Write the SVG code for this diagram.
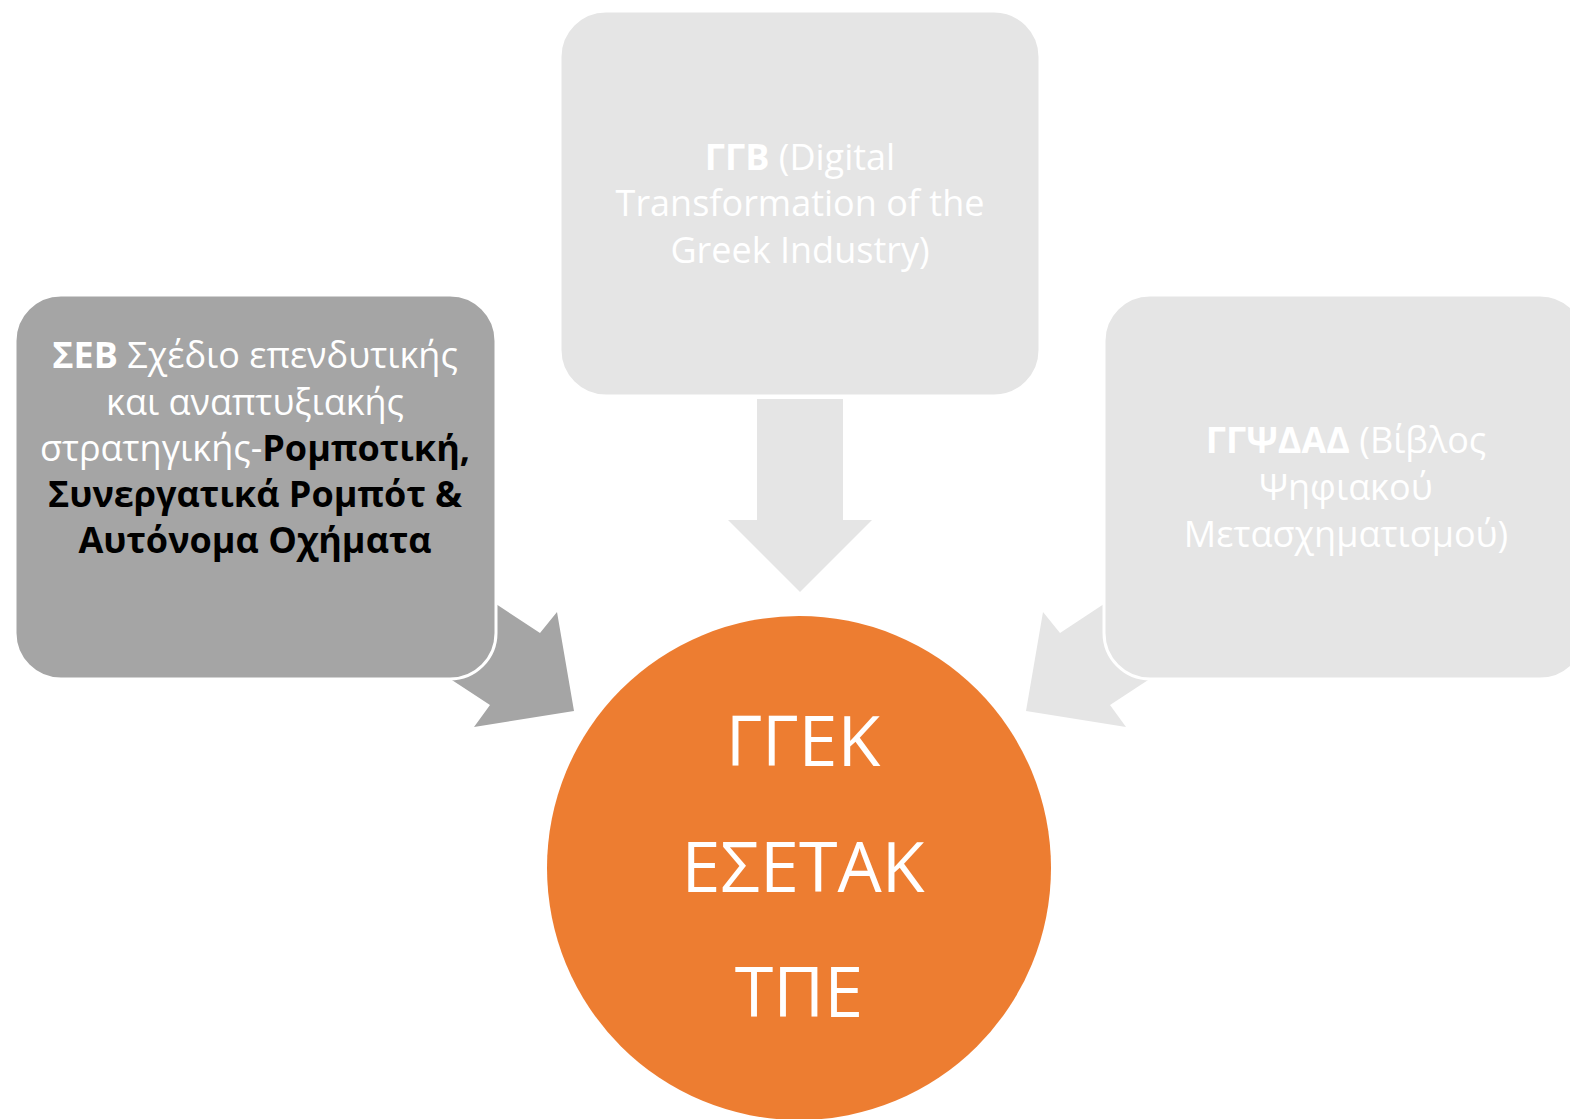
<svg xmlns="http://www.w3.org/2000/svg" width="1570" height="1119" viewBox="0 0 1570 1119">
<style>
.t{font-family:"Open Sans","Noto Sans","DejaVu Sans",sans-serif;text-anchor:middle}
.bt{font-size:36px}
.b{font-weight:bold}
.w{fill:#ffffff}
.k{fill:#000000}
.dark{fill:#a5a5a5}
.light{fill:#e5e5e5}
.box{stroke:#ffffff;stroke-width:3}
.big{font-size:70px;fill:#ffffff}
</style>
<rect width="1570" height="1119" fill="#ffffff"/>
<g id="connectors">
<polygon class="light" points="757,399 843,399 843,520 872,520 800,592 728,520 757,520"/>
<polygon class="dark" points="440,567 540,633 557,612 574,711 474,727 490,705 400,646"/>
<polygon class="light" points="1160,567 1060,633 1043,612 1026,711 1126,727 1110,705 1200,646"/>
</g>
<g id="node-ggb">
<rect class="light box" x="560" y="11" width="480" height="385" rx="46" ry="46"/>
<text class="t bt w" x="800" y="170"><tspan class="b">ΓΓΒ</tspan> (Digital</text>
<text class="t bt w" x="800" y="216">Transformation of the</text>
<text class="t bt w" x="800" y="263">Greek Industry)</text>
</g>
<g id="node-seb">
<rect class="dark box" x="15" y="295" width="481" height="384" rx="46" ry="46"/>
<text class="t bt w" x="255" y="368"><tspan class="b">ΣΕΒ</tspan> Σχέδιο επενδυτικής</text>
<text class="t bt w" x="255" y="415">και αναπτυξιακής</text>
<text class="t bt w" x="255" y="461">στρατηγικής-<tspan class="b k">Ρομποτική,</tspan></text>
<text class="t bt b k" x="255" y="507">Συνεργατικά Ρομπότ &amp;</text>
<text class="t bt b k" x="255" y="553">Αυτόνομα Οχήματα</text>
</g>
<g id="node-ggpsdad">
<rect class="light box" x="1104" y="295" width="482" height="384" rx="46" ry="46"/>
<text class="t bt w" x="1346" y="453"><tspan class="b">ΓΓΨΔΑΔ</tspan> (Βίβλος</text>
<text class="t bt w" x="1346" y="500">Ψηφιακού</text>
<text class="t bt w" x="1346" y="547">Μετασχηματισμού)</text>
</g>
<g id="node-ggek">
<circle cx="799" cy="868" r="252" fill="#ed7d31"/>
<text class="t big" x="803" y="766">ΓΓΕΚ</text>
<text class="t big" x="803" y="892">ΕΣΕΤΑΚ</text>
<text class="t big" x="799" y="1017">ΤΠΕ</text>
</g>
</svg>
